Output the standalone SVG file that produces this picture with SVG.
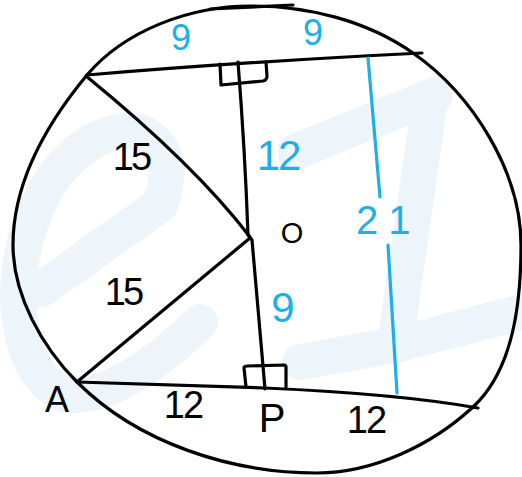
<svg xmlns="http://www.w3.org/2000/svg" width="522" height="477" viewBox="0 0 522 477">
<style>
.ln{fill:none;stroke:#000;stroke-width:3.2;stroke-linecap:round;stroke-linejoin:round}
.bl{fill:none;stroke:#1eaee8;stroke-width:3.2;stroke-linecap:round}
.wm{fill:none;stroke:#edf5fb;stroke-width:36;stroke-linecap:round;stroke-linejoin:round}
.t{font-family:"Liberation Sans",Arial,sans-serif;font-size:38px;text-anchor:middle}
.k{fill:#000}
.b{fill:#1eaee8}
</style>
<rect width="522" height="477" fill="#fff"/>
<g id="watermark">
<path class="wm" d="M40,290 L160,205 Q180,150 140,132 Q95,125 55,175 Q18,230 18,300 Q22,375 65,395 Q120,400 200,322"/>
<path class="wm" d="M295,152 L435,95 M430,100 L395,345 M300,362 L395,345 L522,312"/>
</g>
<g id="circle">
<path class="ln" d="M13,245 C13,182 48,122 87,75 C125,30 191,6 250,6 C307,6 366,20 413,53 C473,95 521,172 521,245 C521,301 514,369 473,407 C432,445 373,473 317,473 C231,473 138,443 77,382 C42,347 13,295 13,245 Z"/>
<path class="ln" d="M210,9 L293,5"/>
</g>
<g id="connectors">
<path class="ln" d="M87,75 Q240,62 422,53"/>
<path class="ln" d="M77,382 L265,388 Q400,394 478,408"/>
<path class="ln" d="M238,62 Q245,150 248,235 L252,240 L265,389"/>
<path class="ln" d="M86,76 Q195,165 250,237"/>
<path class="ln" d="M250,238 L77,382"/>
<path class="ln" d="M220,64 L221,85 L263,81 Q267,80 267,76 L266,62"/>
<path class="ln" d="M246,387 L244,368 Q244,366 247,366 L284,365 Q286,365 286,367 L286,387"/>
<path class="bl" d="M368,58 L380,197 M388,245 L397,393"/>
</g>
<g id="labels">
<text class="t b" x="181" y="50" style="font-size:36px">9</text>
<text class="t b" x="313" y="45" style="font-size:36px">9</text>
<text class="t b" x="278" y="170" style="font-size:42px;letter-spacing:-2px">12</text>
<text class="t b" x="356" y="234" style="font-size:40px;text-anchor:start;letter-spacing:10px">21</text>
<text class="t b" x="283" y="322" style="font-size:42px">9</text>
<text class="t k" x="131" y="170" style="letter-spacing:-3px">15</text>
<text class="t k" x="123" y="305" style="letter-spacing:-3px">15</text>
<text class="t k" x="292" y="243" style="font-size:29px">O</text>
<text class="t k" x="57" y="412" style="font-size:36px">A</text>
<text class="t k" x="183" y="418" style="letter-spacing:-2px">12</text>
<text class="t k" x="272" y="432" style="font-size:40px">P</text>
<text class="t k" x="366" y="433" style="letter-spacing:-2px">12</text>
</g>
</svg>
